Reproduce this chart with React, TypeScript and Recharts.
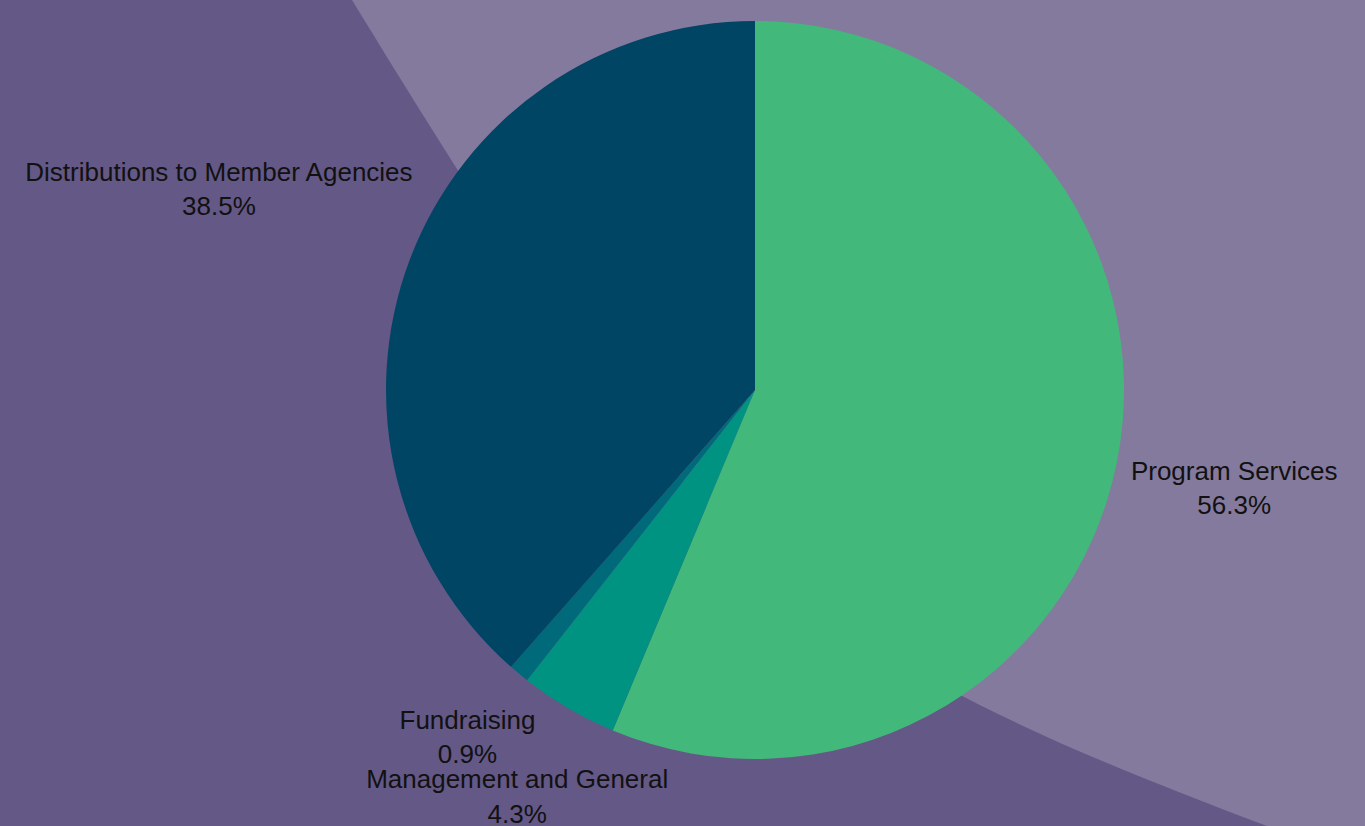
import { PieChart, Pie, Cell } from "recharts"

const categories = [
  "Program Services",
  "Management and General",
  "Fundraising",
  "Distributions to Member Agencies",
]
const values = [56.3, 4.3, 0.9, 38.5]
const colors = ["#42b97a", "#009382", "#006a7a", "#004563"]

const data = categories.map((name, i) => ({ name, value: values[i] }))

const FONT = "'Liberation Sans', Arial, sans-serif"
const FONT_SIZE = 26

let ctx: CanvasRenderingContext2D | null = null
function measure(text: string) {
  if (!ctx) ctx = document.createElement("canvas").getContext("2d")
  if (!ctx) return text.length * FONT_SIZE * 0.52
  ctx.font = `${FONT_SIZE}px ${FONT}`
  return ctx.measureText(text).width
}

// label box sits on the mid ray, pushed out until its near corner clears the pie
const renderLabel = (props: any) => {
  const { cx, cy, midAngle, outerRadius, index } = props
  const rad = (-midAngle * Math.PI) / 180
  const dx = Math.cos(rad)
  const dy = Math.sin(rad)
  const lines = [categories[index], values[index].toFixed(1) + "%"]
  const w = Math.max(...lines.map(measure))
  const h = 68
  const hx = (Math.sign(dx) * w) / 2
  const hy = (Math.sign(dy) * h) / 2
  const dot = dx * hx + dy * hy
  const rc = outerRadius + 12
  const t = dot + Math.sqrt(dot * dot - hx * hx - hy * hy + rc * rc)
  const x = cx + t * dx
  const y = cy + t * dy
  return (
    <text x={x} y={y} textAnchor="middle" fontSize={FONT_SIZE} fontFamily={FONT} fill="#111">
      <tspan x={x} y={y - 6.5}>{lines[0]}</tspan>
      <tspan x={x} y={y + 28}>{lines[1]}</tspan>
    </text>
  )
}

export default function App() {
  return (
    <div style={{ position: "absolute", left: 0, top: 0, width: 1365, height: 826, overflow: "hidden", background: "#645886" }}>
      <svg width={1365} height={826} style={{ position: "absolute", left: 0, top: 0 }}>
        <path d="M352,0 C695,562 786,645 1267,826 L1365,826 L1365,0 Z" fill="#847a9e" />
      </svg>
      <div style={{ position: "absolute", left: 0, top: 0 }}>
        <PieChart width={1365} height={826} margin={{ top: 0, right: 0, bottom: 0, left: 0 }}>
          <Pie
            data={data}
            dataKey="value"
            nameKey="name"
            cx={755}
            cy={390}
            outerRadius={369}
            startAngle={90}
            endAngle={-270}
            stroke="none"
            label={renderLabel}
            labelLine={false}
            isAnimationActive={false}
          >
            {data.map((d, i) => (
              <Cell key={d.name} fill={colors[i]} />
            ))}
          </Pie>
        </PieChart>
      </div>
    </div>
  )
}
